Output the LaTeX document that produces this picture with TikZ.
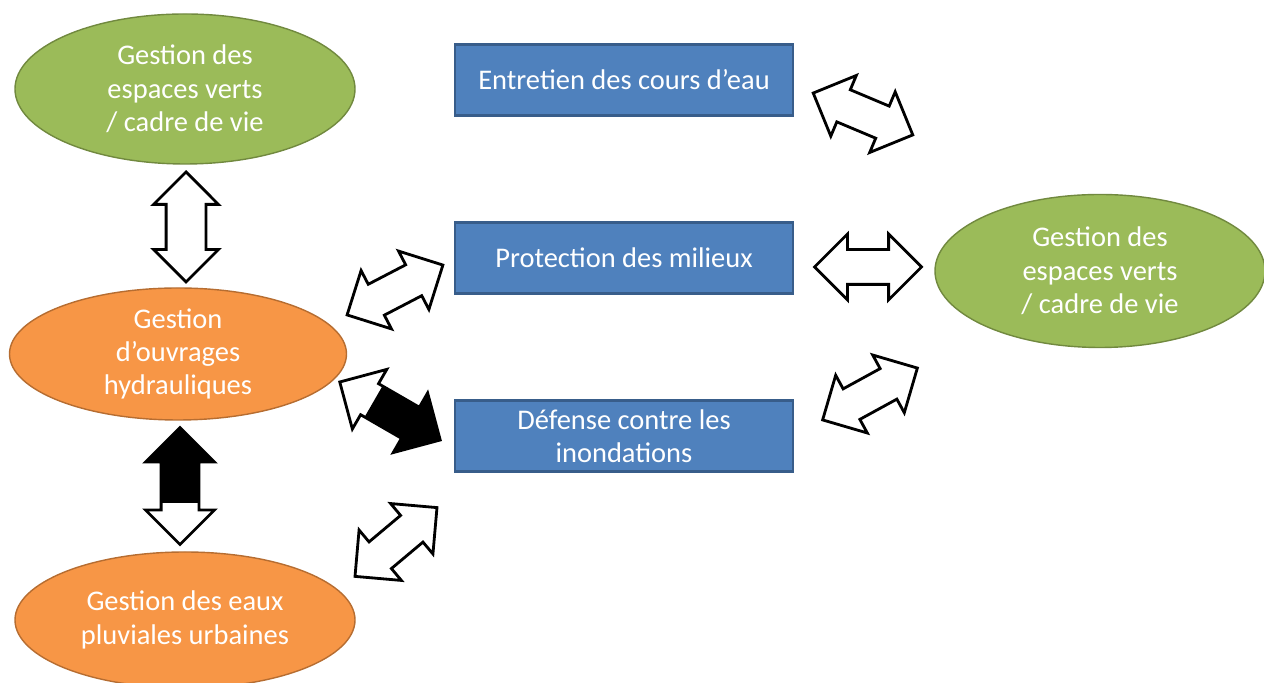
\documentclass[tikz,border=0pt]{standalone}
\usepackage{fontspec}
\setmainfont{Carlito}
\usepackage{tikz}
\usetikzlibrary{shapes.geometric,shapes.arrows,calc}
\usepackage{xcolor}
\definecolor{vert}{HTML}{9BBB59}
\definecolor{vertbord}{HTML}{71893F}
\definecolor{orange}{HTML}{F79646}
\definecolor{orangebord}{HTML}{B66D31}
\definecolor{bleu}{HTML}{4F81BD}
\definecolor{bleubord}{HTML}{385D8A}

\begin{document}
\begin{tikzpicture}[
  every node/.style={font=\fontsize{16.2}{19}\selectfont, text=white, align=center},
  domaine/.style={ellipse, inner sep=0pt, line width=0.8pt},
  vertell/.style={domaine, fill=vert, draw=vertbord},
  orangeell/.style={domaine, fill=orange, draw=orangebord},
  mission/.style={rectangle, fill=bleu, draw=bleubord, line width=1.2pt,
    minimum width=6.76cm, minimum height=1.42cm, inner sep=0pt},
  lien/.style={double arrow, draw=black, fill=white, line width=1.6pt,
    inner xsep=0pt, inner ysep=0.32cm, minimum height=2.16cm, minimum width=1.26cm,
    double arrow head extend=0.31cm},
  moitie/.style={path picture={
    \fill[black] ($(path picture bounding box.center)+(#1,-4)$) rectangle ++(8,8);}}
]
 \useasboundingbox (0,0) rectangle (25.28,13.66);

 % domaines
 \node[vertell, minimum width=6.8cm, minimum height=3.0cm] (vert1) at (3.7,11.88)
   {Gestion des\\espaces verts\\/ cadre de vie};
 \node[orangeell, minimum width=6.74cm, minimum height=2.64cm] (ouvrages) at (3.56,6.58)
   {Gestion\\d’ouvrages\\hydrauliques};
 \node[orangeell, minimum width=6.8cm, minimum height=2.72cm] (pluviales) at (3.70,1.26)
   {Gestion des eaux\\pluviales urbaines};
 \node[vertell, minimum width=6.6cm, minimum height=3.06cm] (vert2) at (22.0,8.24)
   {Gestion des\\espaces verts\\/ cadre de vie};

 % missions
 \node[mission] (entretien) at (12.48,12.06) {Entretien des cours d’eau};
 \node[mission] (protection) at (12.48,8.5) {Protection des milieux};
 \node[mission] (defense) at (12.48,4.94) {Défense contre les\\inondations};

 % liens
 \node[lien, rotate=90, minimum height=2.2cm, minimum width=1.24cm, inner ysep=0.37cm,
   double arrow head extend=0.25cm] (l1) at (3.72,9.12) {};
 \node[lien, rotate=90, minimum height=2.34cm, minimum width=1.32cm, inner ysep=0.35cm,
   moitie=-0.34] (l2) at (3.6,3.94) {};
 \node[lien, rotate=27.5] (l3) at (7.9,7.86) {};
 \node[lien, rotate=-30, minimum height=2.32cm, minimum width=1.32cm, inner ysep=0.33cm,
   double arrow head extend=0.33cm, moitie=-0.38] (l4) at (7.8,5.44) {};
 \node[lien, rotate=40, minimum height=2.14cm] (l5) at (7.92,2.82) {};
 \node[lien, rotate=-22.8] (l6) at (17.26,11.38) {};
 \node[lien, minimum height=2.14cm] (l7) at (17.36,8.32) {};
 \node[lien, rotate=28.7] (l8) at (17.4,5.78) {};
\end{tikzpicture}
\end{document}
